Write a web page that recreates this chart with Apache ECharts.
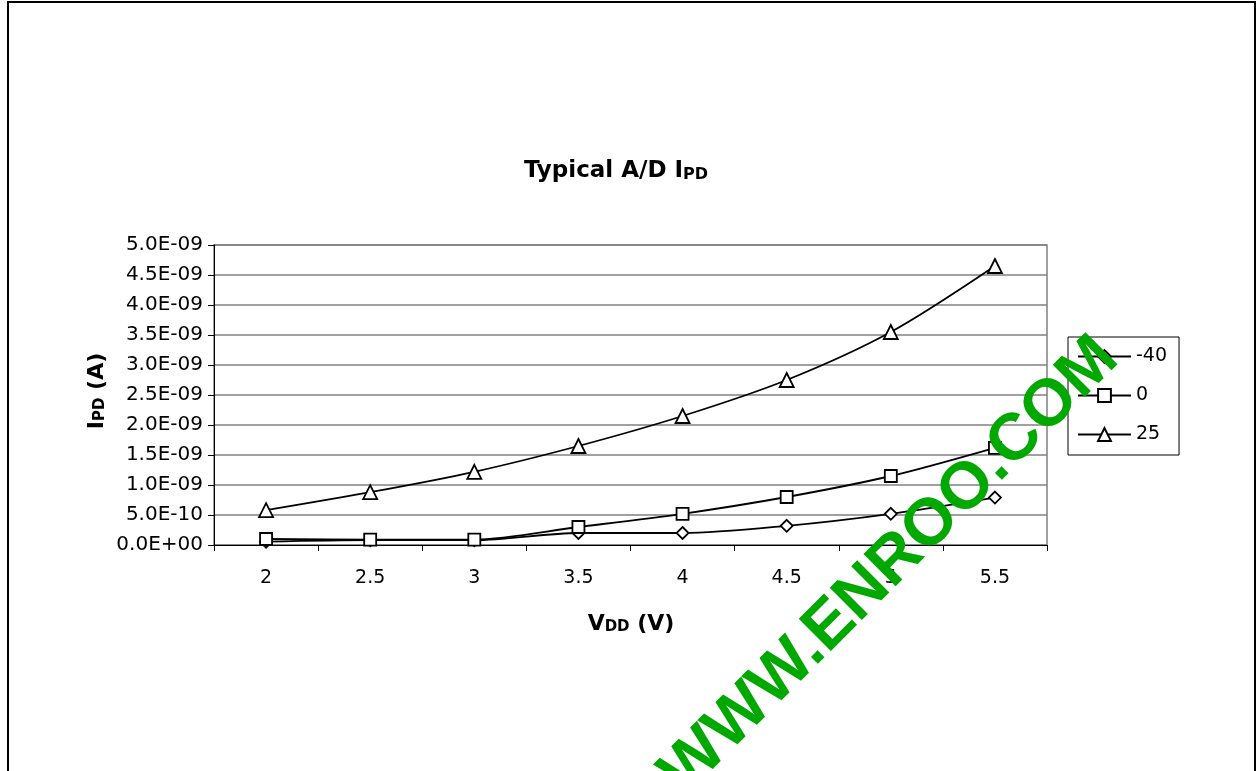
<!DOCTYPE html>
<html>
<head>
<meta charset="utf-8">
<script src="https://cdn.jsdelivr.net/npm/echarts@6/dist/echarts.min.js"></script>
<style>
html,body{margin:0;padding:0;background:#fff;}
#chart{width:1258px;height:771px;}
</style>
</head>
<body>
<div id="chart"></div>
<script>
// Data
var categories = ['2', '2.5', '3', '3.5', '4', '4.5', '5', '5.5'];
var seriesNames = ['-40', '0', '25'];
var valsM40 = [0.55e-10, 0.8e-10, 0.8e-10, 2.0e-10, 2.0e-10, 3.2e-10, 5.2e-10, 7.9e-10];
var vals0   = [1.0e-10, 0.9e-10, 0.9e-10, 3.0e-10, 5.2e-10, 8.0e-10, 11.5e-10, 16.2e-10];
var vals25  = [5.8e-10, 8.8e-10, 12.2e-10, 16.5e-10, 21.5e-10, 27.5e-10, 35.5e-10, 46.5e-10];
var yMin = 0, yMax = 5e-9, yStep = 5e-10;

var FONT = '"DejaVu Sans", "Liberation Sans", Arial, sans-serif';
var WFONT = '"Liberation Sans", Arial, sans-serif';

function fmtExp(v) {
  var s = Number(v).toExponential(1);
  var parts = s.split('e');
  var ex = parseInt(parts[1], 10);
  var sign = ex < 0 ? '-' : '+';
  var a = Math.abs(ex);
  return parts[0] + 'E' + sign + (a < 10 ? '0' + a : '' + a);
}

var chart = echarts.init(document.getElementById('chart'), null, {renderer: 'canvas'});

function mkSeries(name, data, symbol, size) {
  return {
    name: name,
    type: 'line',
    data: data,
    smooth: 0.3,
    symbol: symbol,
    symbolSize: size,
    showAllSymbol: true,
    lineStyle: {color: '#000', width: 1.8},
    itemStyle: {color: '#fff', borderColor: '#000', borderWidth: 1.8},
    emphasis: {disabled: true},
    animation: false
  };
}

chart.setOption({
  backgroundColor: '#fff',
  animation: false,
  textStyle: {fontFamily: FONT},
  grid: {
    left: 214, right: 211, top: 245, bottom: 226,
    show: true, borderColor: '#808080', borderWidth: 1.5, backgroundColor: 'transparent'
  },
  legend: {
    orient: 'vertical',
    left: 1068, top: 337,
    padding: [10, 12, 11, 9],
    itemWidth: 53, itemHeight: 16,
    itemGap: 20,
    borderColor: '#000', borderWidth: 1,
    backgroundColor: '#fff',
    textStyle: {fontFamily: FONT, fontSize: 19, color: '#000'},
    data: seriesNames
  },
  xAxis: {
    type: 'category',
    data: categories,
    boundaryGap: true,
    axisLine: {lineStyle: {color: '#000', width: 1}},
    axisTick: {show: true, length: 6, lineStyle: {color: '#000'}},
    axisLabel: {fontFamily: FONT, fontSize: 19, color: '#000', margin: 24},
    splitLine: {show: false}
  },
  yAxis: {
    type: 'value',
    min: yMin, max: yMax, interval: yStep,
    axisLine: {show: true, lineStyle: {color: '#000', width: 1}},
    axisTick: {show: true, length: 6, lineStyle: {color: '#000'}},
    axisLabel: {fontFamily: FONT, fontSize: 20, color: '#000', margin: 11, formatter: fmtExp},
    splitLine: {show: true, lineStyle: {color: '#808080', width: 1.5}}
  },
  series: [
    mkSeries(seriesNames[0], valsM40, 'diamond', 12),
    mkSeries(seriesNames[1], vals0, 'rect', 12),
    mkSeries(seriesNames[2], vals25, 'triangle', 14)
  ],
  graphic: [
    {
      type: 'rect', silent: true, z: 100,
      shape: {x: 8, y: 2, width: 1247, height: 820},
      style: {fill: 'none', stroke: '#000', lineWidth: 2}
    },
    {
      type: 'text', silent: true, z: 50,
      x: 616, y: 171,
      style: {
        text: '{a|Typical A/D I}{b|PD}',
        align: 'center', verticalAlign: 'middle',
        rich: {
          a: {fontFamily: FONT, fontSize: 23, fontWeight: 'bold', fill: '#000', color: '#000'},
          b: {fontFamily: FONT, fontSize: 16, fontWeight: 'bold', fill: '#000', color: '#000', verticalAlign: 'bottom'}
        }
      }
    },
    {
      type: 'text', silent: true, z: 50,
      x: 97, y: 391, rotation: Math.PI / 2,
      style: {
        text: '{a|I}{b|PD}{a| (A)}',
        align: 'center', verticalAlign: 'middle',
        rich: {
          a: {fontFamily: FONT, fontSize: 22, fontWeight: 'bold', fill: '#000', color: '#000'},
          b: {fontFamily: FONT, fontSize: 15, fontWeight: 'bold', fill: '#000', color: '#000', verticalAlign: 'bottom'}
        }
      }
    },
    {
      type: 'text', silent: true, z: 50,
      x: 631, y: 624,
      style: {
        text: '{a|V}{b|DD}{a| (V)}',
        align: 'center', verticalAlign: 'middle',
        rich: {
          a: {fontFamily: FONT, fontSize: 22, fontWeight: 'bold', fill: '#000', color: '#000'},
          b: {fontFamily: FONT, fontSize: 15, fontWeight: 'bold', fill: '#000', color: '#000', verticalAlign: 'bottom'}
        }
      }
    },
    {
      type: 'text', silent: true, z: 200,
      x: 890, y: 566, rotation: Math.PI / 4,
      style: {
        text: 'WWW.ENROO.COM',
        align: 'center', verticalAlign: 'middle',
        font: 'bold 66px ' + WFONT,
        fill: '#00A800'
      }
    }
  ]
});
</script>
</body>
</html>
